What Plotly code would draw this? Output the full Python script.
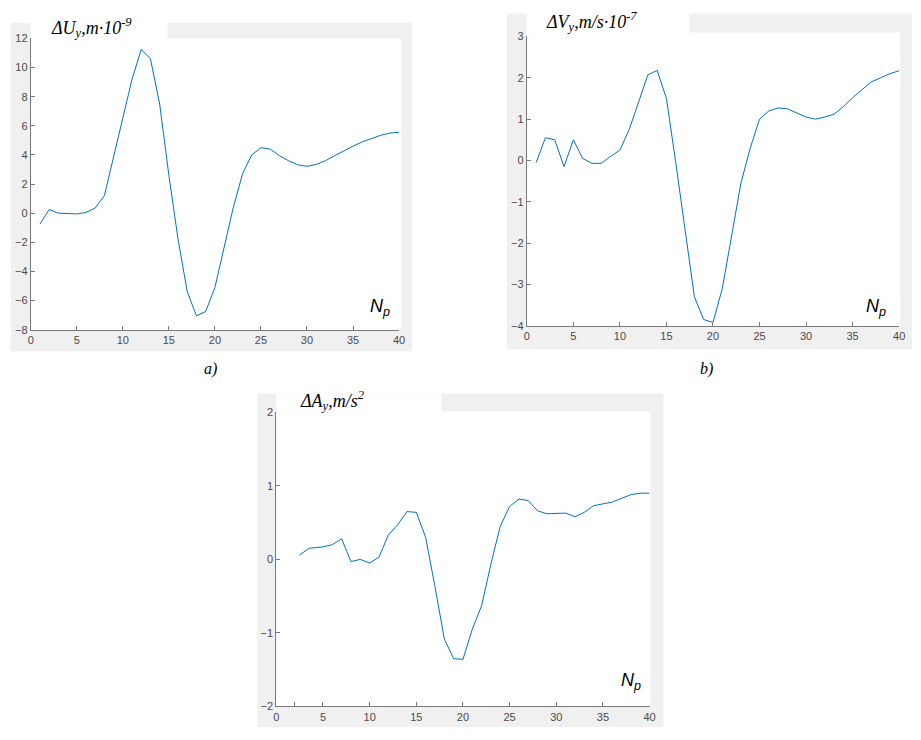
import plotly.graph_objects as go

# ---- data ----
xa = list(range(1, 41))
ua = [-0.75, 0.25, 0.0, 0.0, -0.05, 0.05, 0.35, 1.2, 3.8, 6.5,
      9.2, 11.25, 10.6, 7.5, 2.6, -1.8, -5.4, -7.05, -6.75, -5.1,
      -2.4, 0.4, 2.7, 4.0, 4.5, 4.4, 3.95, 3.6, 3.32, 3.22,
      3.35, 3.6, 3.95, 4.3, 4.6, 4.9, 5.15, 5.35, 5.5, 5.56]

xb = list(range(1, 41))
vb = [-0.05, 0.55, 0.5, -0.15, 0.5, 0.05, -0.07, -0.07, 0.1, 0.25,
      0.75, 1.4, 2.07, 2.18, 1.5, -0.05, -1.7, -3.3, -3.85, -3.92,
      -3.1, -1.8, -0.55, 0.3, 1.0, 1.2, 1.27, 1.25, 1.15, 1.05,
      1.0, 1.05, 1.12, 1.3, 1.52, 1.72, 1.9, 2.0, 2.1, 2.17]

xc = [2.5, 3.5] + list(range(5, 41))
ac = [0.06, 0.15, 0.17, 0.2, 0.28, -0.03, 0.0, -0.05, 0.03, 0.33,
      0.47, 0.65, 0.64, 0.3, -0.37, -1.08, -1.35, -1.36, -0.95, -0.63,
      -0.06, 0.45, 0.72, 0.82, 0.80, 0.66, 0.62, 0.62, 0.63, 0.58,
      0.64, 0.73, 0.75, 0.78, 0.83, 0.88, 0.90, 0.90]

xticks = [0, 5, 10, 15, 20, 25, 30, 35, 40]
yticks_a = [-8, -6, -4, -2, 0, 2, 4, 6, 8, 10, 12]
yticks_b = [-4, -3, -2, -1, 0, 1, 2, 3]
yticks_c = [-2, -1, 0, 1, 2]
xticks_c = [0, 2, 5, 10, 15, 20, 25, 30, 35, 40]
xticktext_c = ["0", "", "5", "10", "15", "20", "25", "30", "35", "40"]

W, H = 921, 740
def fx(p): return p / W
def fy(p): return 1 - p / H

LINE = "#0072BD"
AXC = "#7a7a7a"
TXT = "#4a4a4a"
GRAY = "#f0f0f0"

fig = go.Figure()
fig.add_trace(go.Scatter(x=xa, y=ua, mode="lines", line=dict(color=LINE, width=1), xaxis="x", yaxis="y"))
fig.add_trace(go.Scatter(x=xb, y=vb, mode="lines", line=dict(color=LINE, width=1), xaxis="x2", yaxis="y2"))
fig.add_trace(go.Scatter(x=xc, y=ac, mode="lines", line=dict(color=LINE, width=1), xaxis="x3", yaxis="y3"))

def xax(dom, anchor, tv=xticks, tt=None):
    d = dict(domain=dom, anchor=anchor, range=[0, 40], tickvals=tv, showgrid=False,
             zeroline=False, showline=True, linecolor=AXC, linewidth=1, ticks="inside",
             ticklen=4, tickcolor=AXC, tickfont=dict(family="Liberation Sans", size=11, color=TXT))
    if tt is not None:
        d["ticktext"] = tt
    return d

def yax(dom, anchor, rng, tv):
    return dict(domain=dom, anchor=anchor, range=rng, tickvals=tv, showgrid=False,
                zeroline=False, showline=True, linecolor=AXC, linewidth=1, ticks="inside",
                ticklen=4, tickcolor=AXC, tickfont=dict(family="Liberation Sans", size=11, color=TXT))

fig.update_layout(
    width=W, height=H, margin=dict(l=0, r=0, t=0, b=0),
    paper_bgcolor="white", plot_bgcolor="rgba(0,0,0,0)", showlegend=False,
    xaxis=xax([fx(28), fx(400)], "y"),
    yaxis=yax([fy(329), fy(33)], "x", [-8, 12], yticks_a),
    xaxis2=xax([fx(529), fx(905)], "y2"),
    yaxis2=yax([fy(325), fy(31)], "x2", [-4, 3], yticks_b),
    xaxis3=xax([fx(276), fx(653)], "y3", xticks_c, xticktext_c),
    yaxis3=yax([fy(712), fy(413)], "x3", [-2, 2], yticks_c),
)

shapes = []
def rect(x0, y0, x1, y1, color):
    shapes.append(dict(type="rect", xref="paper", yref="paper", x0=fx(x0), x1=fx(x1),
                       y0=fy(y1), y1=fy(y0), fillcolor=color, line=dict(width=0), layer="below"))
# frames
rect(8, 17, 413, 351, GRAY); rect(28, 33, 402, 329, "white"); rect(28, 17, 166, 33, "white")
rect(509, 8, 918, 349, GRAY); rect(529, 27, 906, 325, "white"); rect(529, 8, 693, 27, "white")
rect(257, 394, 667, 733, GRAY); rect(276, 412, 654, 712, "white"); rect(276, 394, 443, 412, "white")
fig.update_layout(shapes=shapes)

ann = []
def label(x, y, text, size, family, xanchor="left"):
    ann.append(dict(xref="paper", yref="paper", x=fx(x), y=fy(y), text=text, showarrow=False,
                    xanchor=xanchor, yanchor="middle", font=dict(family=family, size=size, color="black")))

serif = "Liberation Serif"
label(46, 22, "<i>ΔU<sub>y</sub>,m·10<sup>-9</sup></i>", 18, serif)
label(546, 16, "<i>ΔV<sub>y</sub>,m/s·10<sup>-7</sup></i>", 18, serif)
label(298, 401, "<i>ΔA<sub>y</sub>,m/s<sup>2</sup></i>", 18, serif)
label(381, 306, "<i>N<sub>p</sub></i>", 18, "Liberation Sans", "center")
label(882, 306, "<i>N<sub>p</sub></i>", 18, "Liberation Sans", "center")
label(634, 687, "<i>N<sub>p</sub></i>", 18, "Liberation Sans", "center")
label(210, 369, "<i>a)</i>", 16, serif, "center")
label(710, 369, "<i>b)</i>", 16, serif, "center")
fig.update_layout(annotations=ann)

fig.write_html("out.html", config={"displayModeBar": False},
               post_script="document.body.style.margin='0';document.body.style.overflow='hidden';")
